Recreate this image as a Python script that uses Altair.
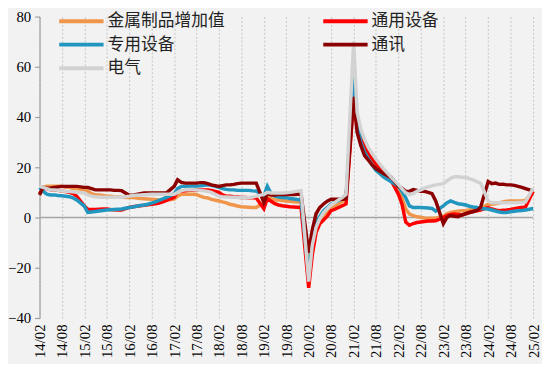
import altair as alt
import pandas as pd

SERIES = ["金属制品增加值", "通用设备", "专用设备", "通讯", "电气"]
COLORS = ["#F0964A", "#FF0000", "#2196BE", "#8B0000", "#D2D2D2"]
# legend fills column by column: left column 金属/专用/电气, right column 通用/通讯
LEGEND_ORDER = ["金属制品增加值", "专用设备", "电气", "通用设备", "通讯"]

# months: Feb..Dec of each year 2014-2024, plus 2025-02 (January not published)
MONTHS = [f"{y}/{m:02d}/01" for y in range(2014, 2025) for m in range(2, 13)] + ["2025/02/01"]

TICK_MONTHS = [(y, m) for y in range(2014, 2026) for m in (2, 8) if not (y == 2025 and m == 8)]
Y_TICKS = [-40, -20, 0, 20, 40, 60, 80]

METAL = [
    12, 12, 12.5, 12.5, 12.5, 12.5, 12.5, 12, 12, 11.5, 11.5,
    11, 10.5, 9.5, 9, 9, 8.8, 8.5, 8.5, 8.3, 8.2, 8.1,
    8, 8, 7.8, 7.6, 7.5, 7.4, 7.3, 7.2, 7, 7, 7,
    7.3, 8.5, 9.3, 9.3, 9.3, 9.3, 9.2, 8.5, 8, 7.8, 7.2,
    6.6, 6.2, 5.8, 5.3, 5, 4.6, 4.3, 4.2, 4.1, 4, 4,
    5.9, 8, 7.5, 7, 7, 6.8, 6.6, 6.5, 6.3, 6.2, 6.2,
    -21, -8, -4, -1, 1, 2.5, 3.5, 4.5, 5.5, 6.5, 7.5,
    52, 40, 33, 29, 26.7, 24, 22, 20, 18.2, 17, 15.6,
    11.7, 7.9, 3.4, 1.4, 0.8, 0.3, 0.1, -0.2, -0.3, -0.3, -0.3,
    0.5, 1.5, 2, 2.3, 2.5, 2.7, 2.8, 3, 3.2, 3.4, 3.6,
    5.3, 5.3, 5.5, 5.8, 6.2, 6.5, 6.6, 6.6, 6.6, 6.6, 6.8,
    10.4,
]
GENERAL = [
    9.5, 11.5, 11.5, 11, 11, 10.8, 10.5, 10.3, 10, 9.5, 8.5,
    4.6, 3.3, 3.2, 3.2, 3.3, 3.4, 3.4, 3.2, 3.1, 3, 3,
    4, 4.3, 4.5, 4.7, 4.9, 5.1, 5.3, 5.5, 5.8, 6.2, 6.8,
    8, 10.4, 10.5, 10.6, 10.8, 10.8, 11, 11, 11, 11, 10.8,
    10, 9, 8.5, 8.5, 8.3, 8.2, 8, 8, 7.9, 7.9, 7.8,
    3.5, 7.5, 6.5, 5.5, 5, 4.7, 4.5, 4.3, 4.2, 4.1, 4,
    -28, -15, -6, -2.5, -1, 0.5, 2.7, 3.3, 4, 4.7, 5.4,
    47, 36, 31.7, 28.6, 25.3, 23.3, 21.4, 19.5, 17.5, 16.2, 15,
    9.2, 5.4, -1.8, -3.1, -2.4, -2, -1.8, -1.6, -1.4, -1.4, -1.3,
    0, 0.8, 1.2, 1.4, 1.2, 1, 1.5, 2, 2.5, 2.7, 3,
    4, 3.4, 3, 2.7, 2.9, 3, 3.2, 3.5, 3.8, 4, 4.2,
    10.4,
]
SPECIAL = [
    12, 10.5, 9.3, 9, 9, 8.8, 8.7, 8.5, 8.3, 7.8, 7,
    4.5, 2, 2.2, 2.4, 2.6, 2.8, 3, 3.1, 3.2, 3.3, 3.4,
    4, 4.2, 4.5, 4.8, 5, 5.3, 5.7, 6.2, 6.8, 7.4, 8,
    9.5, 11.5, 12.4, 12.4, 12.5, 12.5, 12.5, 12.6, 12.8, 13, 12.8,
    12, 11.5, 11.2, 11, 11, 10.8, 10.8, 10.8, 10.8, 10.6, 10.5,
    8.5, 12.4, 9.5, 8.5, 8.2, 8, 7.9, 7.6, 7.4, 7.2, 7,
    -23, -9, -2.4, 0.5, 2.7, 4, 5.4, 6, 6.8, 7.4, 7.9,
    56, 38.8, 29.8, 26, 23.3, 21, 18.8, 17.5, 16.2, 15.2, 14.3,
    12.4, 10.4, 7.9, 4.6, 4, 4, 4, 3.9, 3.8, 3.6, 2.5,
    4.6, 5.8, 6.6, 6, 5.5, 5.3, 5, 4.5, 4.2, 4, 3.6,
    3.4, 3, 2.6, 2.2, 2, 2, 2.3, 2.5, 2.7, 2.8, 3,
    3.6,
]
TELECOM = [
    9, 12, 11.7, 11.7, 12, 12.2, 12.4, 12.4, 12.4, 12.4, 12.4,
    12, 12, 11.5, 11, 11, 11, 11, 11, 10.8, 10.8, 10.7,
    8.9, 8.9, 9.2, 9.5, 9.8, 9.8, 9.8, 9.8, 9.8, 9.8, 9.8,
    12.4, 15, 14, 13.7, 13.7, 13.7, 13.7, 13.9, 13.9, 13.5, 13,
    12.4, 12.7, 13, 13, 13.2, 13.5, 13.7, 13.7, 13.7, 13.7, 13.7,
    6, 9.5, 9, 9, 9.2, 9.2, 9.2, 9.2, 9.2, 9.3, 9.3,
    -14, -5, 1.5, 4, 5.4, 6.5, 7.3, 7.3, 7.3, 7.3, 7.5,
    48, 34, 28.6, 24.6, 22.8, 21, 19.5, 18.5, 17.5, 16.8, 16.2,
    12.4, 11.7, 10.4, 10.4, 11.1, 10.8, 10.4, 10.4, 10, 9.5, 6.6,
    -2.4, 0, 0.8, 0.5, 0.3, 1, 1.5, 2, 2.3, 2.8, 4,
    14.3, 13.5, 13.7, 13.2, 13.3, 13, 13, 12.8, 12.4, 12, 11.5,
    10.5,
]
ELECTRIC = [
    12.5, 12, 11.5, 11, 11, 10.8, 10.5, 10.4, 10.3, 10.2, 10,
    9.8, 9, 8.5, 8.3, 8.2, 8.1, 8.1, 8.1, 8.1, 8.1, 8.1,
    8.5, 8.8, 8.9, 9, 9.1, 9.2, 9.3, 9.3, 9.3, 9.3, 9.3,
    9.3, 10, 10.7, 11, 11, 11, 11, 10.8, 10.6, 10.4, 10,
    8.5, 8.3, 8.2, 8.1, 8.1, 8, 7.9, 7.9, 8, 8.2, 8.5,
    9.2, 10, 9.8, 9.8, 9.8, 9.8, 9.9, 10, 10.2, 10.5, 10.7,
    -25.5, -11, -4, -0.5, 2, 3.5, 5, 6, 7, 8, 9.2,
    70, 42, 35, 31, 27.8, 25.5, 23.3, 21.3, 19.5, 17.8, 16.2,
    13, 11.5, 9.8, 9.2, 9.5, 10.4, 11, 11.7, 12.2, 12.6, 13,
    13.5, 14.5, 15.6, 16.2, 16.2, 16, 16, 15.5, 15, 14.3, 13.7,
    6.6, 5.9, 5.9, 5.9, 5.9, 5.9, 5.9, 5.9, 6, 6, 6.2,
    11.7,
]

VALUES = [METAL, GENERAL, SPECIAL, TELECOM, ELECTRIC]

rows = []
for name, vals in zip(SERIES, VALUES):
    for d, v in zip(MONTHS, vals):
        rows.append({"date": d, "series": name, "value": v})
df = pd.DataFrame(rows)

color_of = dict(zip(SERIES, COLORS))
legend_colors = [color_of[s] for s in LEGEND_ORDER]

tick_values = [alt.DateTime(year=y, month=m, date=1) for (y, m) in TICK_MONTHS]

x_enc = alt.X(
    "date:T",
    scale=alt.Scale(domain=[alt.DateTime(year=2014, month=2, date=1),
                            alt.DateTime(year=2025, month=2, date=1)]),
    axis=alt.Axis(
        values=tick_values, format="%y/%m", title=None,
        labelAngle=270, labelFont="Liberation Serif", labelFontSize=15,
        labelColor="#000000", labelPadding=6, labelOverlap=False, labelFlush=False,
        ticks=False, domain=False,
        grid=True, gridDash=[2, 2], gridColor="#C4C4C4", gridWidth=1,
    ),
)
y_enc = alt.Y(
    "value:Q",
    scale=alt.Scale(domain=[-40, 80], nice=False, zero=False),
    axis=alt.Axis(
        values=Y_TICKS, title=None, grid=False,
        labelFont="Liberation Serif", labelFontSize=15, labelColor="#000000",
        labelPadding=4, domainColor="#A0A0A0", domainWidth=1.2,
        tickColor="#A0A0A0", tickSize=5, tickWidth=1.2,
    ),
)

zero = alt.Chart(pd.DataFrame({"z": [0]})).mark_rule(color="#A6A6A6", strokeWidth=1.5).encode(
    y=alt.Y("z:Q", scale=alt.Scale(domain=[-40, 80], nice=False))
)

lines = alt.Chart(df).mark_line(strokeWidth=3.5).encode(
    x=x_enc,
    y=y_enc,
    color=alt.Color(
        "series:N",
        scale=alt.Scale(domain=LEGEND_ORDER, range=legend_colors),
        legend=alt.Legend(
            orient="none", legendX=18, legendY=-4, columns=2, title=None,
            symbolType="M-5,0H5", symbolSize=81, symbolStrokeWidth=4,
            symbolOffset=16, symbolFillColor="transparent",
            labelFont="Noto Sans CJK SC", labelFontSize=17, labelColor="#222222",
            labelLimit=300, labelOffset=18, columnPadding=92, rowPadding=6,
            padding=0,
        ),
    ),
    order=alt.Order("date:T"),
)

chart = alt.layer(zero, lines).properties(
    width=501, height=306,
    padding={"left": 32, "top": 6, "right": 9, "bottom": 44},
    autosize=alt.AutoSizeParams(type="none"),
    background="#F2F2F2",
).configure_view(stroke=None)

chart.save("out.html", embed_options={"renderer": "svg", "actions": False})
